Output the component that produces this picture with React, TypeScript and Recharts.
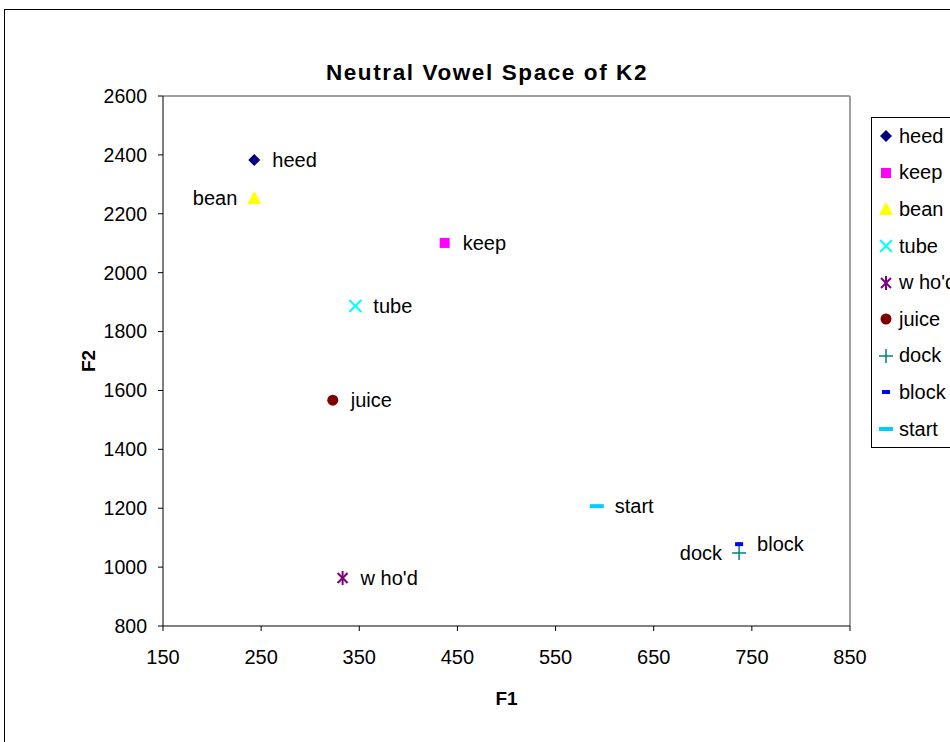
import { Legend, ReferenceLine, Scatter, ScatterChart, XAxis, YAxis } from 'recharts';

// vowel tokens, in legend order
const vowels = ['heed', 'keep', 'bean', 'tube', "w ho'd", 'juice', 'dock', 'block', 'start'];
const f1Values = [243, 437, 243, 346, 333, 323, 737, 737, 592];
const f2Values = [2383, 2101, 2254, 1887, 963, 1567, 1048, 1078, 1207];

const f1Ticks = [150, 250, 350, 450, 550, 650, 750, 850];
const f2Ticks = [800, 1000, 1200, 1400, 1600, 1800, 2000, 2200, 2400, 2600];

const FONT = '"Liberation Sans", Arial, sans-serif';

type Marker = 'diamond' | 'square' | 'triangle' | 'x' | 'asterisk' | 'circle' | 'plus' | 'dash' | 'longdash';

const markers: { [key: string]: { kind: Marker; color: string; side: 'left' | 'right' } } = {
  heed: { kind: 'diamond', color: '#000080', side: 'right' },
  keep: { kind: 'square', color: '#FF00FF', side: 'right' },
  bean: { kind: 'triangle', color: '#FFFF00', side: 'left' },
  tube: { kind: 'x', color: '#00FFFF', side: 'right' },
  "w ho'd": { kind: 'asterisk', color: '#800080', side: 'right' },
  juice: { kind: 'circle', color: '#800000', side: 'right' },
  dock: { kind: 'plus', color: '#008080', side: 'left' },
  block: { kind: 'dash', color: '#0000FF', side: 'right' },
  start: { kind: 'longdash', color: '#00CCFF', side: 'right' },
};

const drawMarker = (kind: Marker, color: string, cx: number, cy: number) => {
  switch (kind) {
    case 'diamond':
      return <polygon points={`${cx},${cy - 6} ${cx + 6},${cy} ${cx},${cy + 6} ${cx - 6},${cy}`} fill={color} />;
    case 'square':
      return <rect x={cx - 5} y={cy - 5} width={10} height={10} fill={color} />;
    case 'triangle':
      return <polygon points={`${cx},${cy - 7} ${cx + 7},${cy + 6} ${cx - 7},${cy + 6}`} fill={color} />;
    case 'x':
      return (
        <g stroke={color} strokeWidth={2}>
          <line x1={cx - 6} y1={cy - 6} x2={cx + 6} y2={cy + 6} />
          <line x1={cx - 6} y1={cy + 6} x2={cx + 6} y2={cy - 6} />
        </g>
      );
    case 'asterisk':
      return (
        <g stroke={color} strokeWidth={2}>
          <line x1={cx - 5} y1={cy - 5} x2={cx + 5} y2={cy + 5} />
          <line x1={cx - 5} y1={cy + 5} x2={cx + 5} y2={cy - 5} />
          <line x1={cx} y1={cy - 7} x2={cx} y2={cy + 7} />
        </g>
      );
    case 'circle':
      return <circle cx={cx} cy={cy} r={5.5} fill={color} />;
    case 'plus':
      return (
        <g stroke={color} strokeWidth={1.5}>
          <line x1={cx - 7} y1={cy} x2={cx + 7} y2={cy} />
          <line x1={cx} y1={cy - 7} x2={cx} y2={cy + 7} />
        </g>
      );
    case 'dash':
      return <rect x={cx - 4} y={cy - 2} width={8} height={4} fill={color} />;
    case 'longdash':
      return <rect x={cx - 7} y={cy - 2} width={14} height={4} fill={color} />;
  }
};

const pointShape = (name: string) => (props: any) => {
  const { cx, cy } = props;
  const m = markers[name];
  const right = m.side === 'right';
  return (
    <g>
      {drawMarker(m.kind, m.color, cx, cy)}
      <text
        x={right ? cx + 18 : cx - 17}
        y={cy}
        textAnchor={right ? 'start' : 'end'}
        dominantBaseline="central"
        fontSize={20}
        fontFamily={FONT}
        fill="#000"
      >
        {name}
      </text>
    </g>
  );
};

const renderLegend = () => (
  <div style={{ border: '1px solid #000', borderRight: 'none', background: '#fff', fontFamily: FONT, fontSize: 20 }}>
    {vowels.map((v) => (
      <div key={v} style={{ height: 36.6, display: 'flex', alignItems: 'center', whiteSpace: 'nowrap' }}>
        <svg width={27} height={18} style={{ flex: 'none' }}>
          {drawMarker(markers[v].kind, markers[v].color, 14, 9)}
        </svg>
        <span>{v}</span>
      </div>
    ))}
  </div>
);

export default function App() {
  return (
    <div style={{ position: 'absolute', left: 0, top: 0, width: 950, height: 742, overflow: 'hidden', background: '#fff' }}>
      <div
        style={{
          position: 'absolute',
          left: 4,
          top: 9,
          width: 945,
          height: 732,
          borderLeft: '1px solid #000',
          borderTop: '1px solid #000',
        }}
      />
      <div
        style={{
          position: 'absolute',
          left: 24,
          top: 60,
          width: 926,
          textAlign: 'center',
          fontFamily: FONT,
          fontWeight: 'bold',
          fontSize: 22.5,
          letterSpacing: 1.6,
        }}
      >
        Neutral Vowel Space of K2
      </div>
      <div style={{ position: 'absolute', left: 0, top: 0 }}>
        <ScatterChart width={950} height={742} margin={{ top: 96, right: 100, bottom: 86, left: 103 }}>
          <XAxis
            type="number"
            dataKey="f1"
            domain={[150, 850]}
            ticks={f1Ticks}
            height={30}
            stroke="#000"
            tickSize={5}
            tickMargin={19}
            tick={{ fill: '#000', fontSize: 20, fontFamily: FONT }}
            label={{
              content: ({ viewBox }: any) => (
                <text
                  x={viewBox.x + viewBox.width / 2}
                  y={viewBox.y + 72}
                  textAnchor="middle"
                  dominantBaseline="central"
                  fontSize={19}
                  fontWeight="bold"
                  fontFamily={FONT}
                >
                  F1
                </text>
              ),
            }}
          />
          <YAxis
            type="number"
            dataKey="f2"
            domain={[800, 2600]}
            ticks={f2Ticks}
            width={60}
            stroke="#000"
            tickSize={5}
            tickMargin={11}
            tick={{ fill: '#000', fontSize: 19.5, fontFamily: FONT }}
            label={{
              content: ({ viewBox }: any) => (
                <text
                  x={viewBox.x - 15}
                  y={viewBox.y + viewBox.height / 2}
                  textAnchor="middle"
                  dominantBaseline="central"
                  fontSize={19}
                  fontWeight="bold"
                  fontFamily={FONT}
                  transform={`rotate(-90 ${viewBox.x - 15} ${viewBox.y + viewBox.height / 2})`}
                >
                  F2
                </text>
              ),
            }}
          />
          <ReferenceLine y={2600} stroke="#808080" strokeWidth={1.5} />
          <ReferenceLine x={850} stroke="#808080" strokeWidth={1.5} />
          {vowels.map((v, i) => (
            <Scatter
              key={v}
              name={v}
              data={[{ f1: f1Values[i], f2: f2Values[i] }]}
              shape={pointShape(v)}
              isAnimationActive={false}
            />
          ))}
          <Legend
            layout="horizontal"
            align="center"
            verticalAlign="middle"
            content={renderLegend}
            wrapperStyle={{ left: 871, top: 117, width: 90 }}
          />
        </ScatterChart>
      </div>
    </div>
  );
}
